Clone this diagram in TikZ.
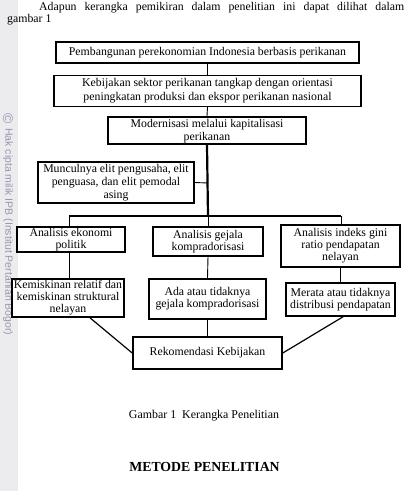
\documentclass[tikz,border=0pt]{standalone}
\usepackage{fontspec}
\setmainfont{Liberation Serif}
\newfontfamily\wmfont{Liberation Sans}
\definecolor{stripgray}{RGB}{236,236,238}
\definecolor{wmcolor}{RGB}{150,150,178}
\begin{document}
\begin{tikzpicture}[x=1pt,y=-1pt,
  box/.style={draw,line width=1.6pt,fill=white,rectangle,inner sep=0.5pt,align=center,
    font=\fontsize{11.8}{12}\selectfont},
  thin/.style={line width=0.9pt},
  thick2/.style={line width=2.2pt},
  diag/.style={line width=1.2pt}]
\useasboundingbox (0,0) rectangle (404,491);
\fill[stripgray] (0,0) rectangle (18,491);
\node[font=\wmfont\fontsize{14}{14}\selectfont,text=wmcolor,rotate=-90,inner sep=0pt] (cp) at (8,119) {\textcopyright};
\node[font=\wmfont\fontsize{10.5}{12}\selectfont,text=wmcolor,rotate=-90,anchor=west,inner sep=0pt] (wm) at (8,128) {Hak cipta milik IPB (Institut Pertanian Bogor)};
% body text
\node[anchor=west,inner sep=0pt,font=\fontsize{11.8}{14}\selectfont] (l1) at (39,8) {\makebox[365pt][s]{Adapun kerangka pemikiran dalam penelitian ini dapat dilihat dalam}};
\node[anchor=west,inner sep=0pt,font=\fontsize{11.8}{14}\selectfont] (l2) at (7,20) {gambar 1};
% boxes
\node[box,minimum width=303pt,minimum height=21pt] (b1) at (207.5,52.5) {Pembangunan perekonomian Indonesia berbasis perikanan};
\node[box,minimum width=307pt,minimum height=31pt,font=\fontsize{11.8}{14}\selectfont] (b2) at (207.5,90.8) {Kebijakan sektor perikanan tangkap dengan orientasi\\peningkatan produksi dan ekspor perikanan nasional};
\node[box,minimum width=198pt,minimum height=27.5pt,text height=23.5pt,text depth=3pt,font=\fontsize{11.8}{13.3}\selectfont] (b3) at (207,130.5) {Modernisasi melalui kapitalisasi\\perikanan};
\node[box,minimum width=156pt,minimum height=41pt,font=\fontsize{11.8}{13}\selectfont] (mu) at (116,182.5) {Munculnya elit pengusaha, elit\\penguasa, dan elit pemodal\\asing};
\node[box,minimum width=108pt,minimum height=25pt] (ek) at (71,239.5) {Analisis ekonomi\\politik};
\node[box,minimum width=110pt,minimum height=29pt] (gj) at (208,241.5) {Analisis gejala\\kompradorisasi};
\node[box,minimum width=119pt,minimum height=42pt] (ix) at (340.5,246) {Analisis indeks gini\\ratio pendapatan\\nelayan};
\node[box,minimum width=112pt,minimum height=38pt] (km) at (68,298) {Kemiskinan relatif dan\\kemiskinan struktural\\nelayan};
\node[box,minimum width=117pt,minimum height=40pt] (ad) at (207.5,299) {Ada atau tidaknya\\gejala kompradorisasi};
\node[box,minimum width=109pt,minimum height=33pt] (mr) at (340.5,299.5) {Merata atau tidaknya\\distribusi pendapatan};
\node[box,minimum width=149pt,minimum height=32pt] (rk) at (207.5,353) {Rekomendasi Kebijakan};
% coordinates
\coordinate (busm) at (208,216);
\coordinate (busl) at (69,216);
\coordinate (busr) at (341,216);
\coordinate (mj) at (208,183);
% connectors
\draw[thin] (b1.south) -- (b2.north);
\draw[thin] (b2.south) -- (b3.north);
\draw[thick2] (b3.south) -- (busm);
\draw[thin] (mu.east) -- (mj);
\draw[thick2] (busl) -- (busr);
\draw[thin] (busl) -- (ek.north -| busl);
\draw[thin] (busm) -- (gj.north);
\draw[thin] (busr) -- (ix.north -| busr);
\draw[thin] (ek.south -| busl) -- (km.north -| busl);
\draw[thin] (gj.south) -- (ad.north);
\draw[thin] (ix.south) -- (mr.north);
\draw[thin] (ad.south) -- (rk.north);
\draw[diag] ([xshift=22pt]km.south) -- (rk.west);
\draw[diag] ([xshift=2.5pt]mr.south) -- (rk.east);
% caption
\node[font=\fontsize{11.9}{14}\selectfont] (cap) at (204,416) {Gambar 1\ \ Kerangka Penelitian};
\node[font=\bfseries\fontsize{13.8}{16}\selectfont] (met) at (204.5,467) {METODE PENELITIAN};
\end{tikzpicture}
\end{document}
